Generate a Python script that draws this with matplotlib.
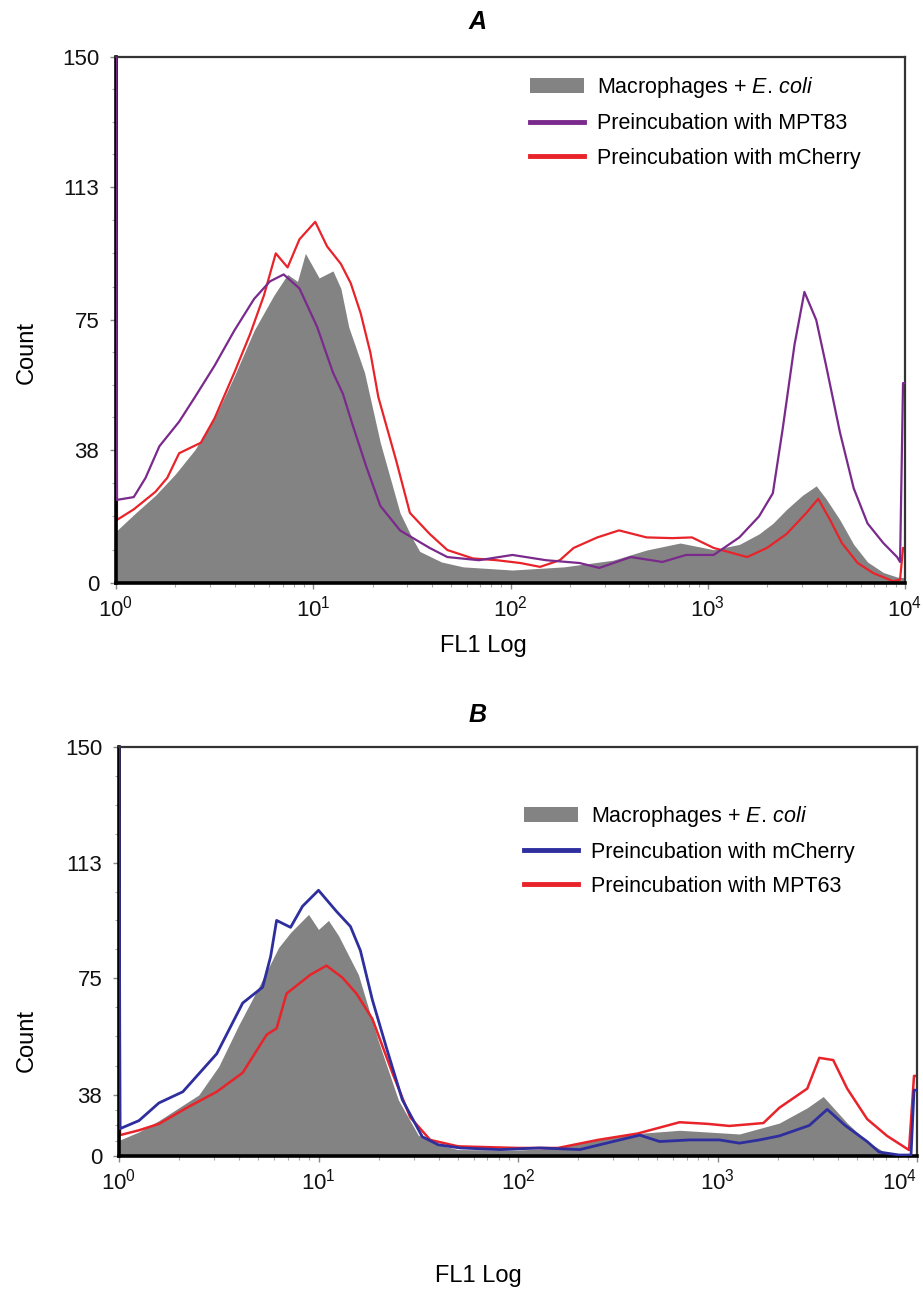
import numpy as np
import matplotlib
matplotlib.use('Agg')
import matplotlib.pyplot as plt
from matplotlib.patches import Patch
from matplotlib.lines import Line2D
from matplotlib.ticker import FixedLocator, NullFormatter, LogLocator

plt.rcParams['font.family'] = ['Liberation Sans', 'DejaVu Sans']
plt.rcParams['mathtext.fontset'] = 'custom'
plt.rcParams['mathtext.rm'] = 'Liberation Sans'
plt.rcParams['mathtext.it'] = 'Liberation Sans:italic'
plt.rcParams['mathtext.bf'] = 'Liberation Sans:bold'

# ---------------- data (x given as log10 of FL1 intensity) ----------------
# Panel A
a_gray_log = [0, 0.005, 0.1, 0.2, 0.3, 0.4, 0.5, 0.6, 0.7, 0.8, 0.87, 0.92, 0.96, 1.0, 1.03, 1.1,
              1.14, 1.18, 1.26, 1.3, 1.34, 1.4, 1.44, 1.5, 1.54, 1.65, 1.76, 2.01, 2.27, 2.52,
              2.69, 2.86, 3.03, 3.16, 3.26, 3.33, 3.4, 3.48, 3.55, 3.6, 3.67, 3.74, 3.81, 3.89,
              3.96, 4.0]
a_gray = [150, 15, 20, 25, 31, 38, 47, 59, 72, 82, 88, 86, 94, 90, 87, 89,
          84, 73, 60, 50, 40, 28, 20, 13, 9, 6, 4.6, 3.7, 4.6, 6.5,
          9.4, 11.4, 9.5, 11, 14, 17, 21, 25, 27.7, 24, 18, 11, 6, 3,
          1.7, 1.5]

a_mpt83_log = [0, 0.005, 0.09, 0.15, 0.22, 0.32, 0.4, 0.5, 0.6, 0.7, 0.78, 0.85, 0.93, 1.02,
               1.1, 1.15, 1.2, 1.27, 1.34, 1.44, 1.59, 1.68, 1.84, 2.01, 2.18, 2.35, 2.45,
               2.61, 2.77, 2.89, 3.03, 3.16, 3.26, 3.33, 3.38, 3.44, 3.49, 3.55, 3.6, 3.67,
               3.74, 3.81, 3.89, 3.96, 3.975, 3.99, 4.0]
a_mpt83 = [150, 23.7, 24.5, 30, 39, 46, 53, 62, 72, 81, 86, 88, 84, 73,
           60, 54, 45, 33, 22, 15, 10, 7.4, 6.5, 8, 6.5, 5.7, 4.3,
           7.4, 6, 8, 8, 13, 19, 25.6, 44, 68, 83, 75, 62, 43,
           27, 17, 11.4, 7.4, 6, 57, 57]

a_mcherry_log = [0, 0.005, 0.09, 0.2, 0.26, 0.32, 0.43, 0.5, 0.6, 0.68, 0.75, 0.81, 0.87, 0.93,
                 1.01, 1.07, 1.14, 1.19, 1.24, 1.29, 1.33, 1.42, 1.49, 1.59, 1.68, 1.81, 1.93,
                 2.05, 2.15, 2.25, 2.32, 2.44, 2.55, 2.69, 2.82, 2.92, 3.03, 3.2, 3.3, 3.4,
                 3.5, 3.56, 3.62, 3.68, 3.76, 3.84, 3.94, 3.975, 3.99, 4.0]
a_mcherry = [150, 18, 21, 26, 30, 37, 40, 47, 60, 71, 82, 94, 90, 98,
             103, 96, 91, 85.5, 77, 65.6, 53, 35, 20, 14, 9.4, 7, 6.5,
             5.7, 4.6, 6.5, 10, 13, 15, 13, 12.8, 13, 10, 7.4, 10, 14,
             20, 24, 18, 11.4, 5.7, 2.8, 0.5, 1, 10, 10]

# Panel B
b_gray_log = [0, 0.005, 0.1, 0.2, 0.3, 0.4, 0.5, 0.6, 0.7, 0.8, 0.86, 0.95, 1.0, 1.05, 1.1,
              1.2, 1.3, 1.4, 1.5, 1.6, 1.7, 2.0, 2.2, 2.4, 2.6, 2.81, 3.11, 3.31, 3.45,
              3.53, 3.65, 3.75, 3.85, 4.0]
b_gray = [150, 10, 15, 22, 30, 38, 47, 60, 72, 85, 90, 96, 91, 94, 89,
          76, 55, 35, 13, 7, 4, 3.7, 5, 10, 14, 16, 13.7, 20.5, 30,
          37, 20.5, 9, 1.4, 1]

b_mcherry_log = [0, 0.005, 0.1, 0.2, 0.32, 0.49, 0.62, 0.72, 0.76, 0.79, 0.86, 0.92, 1.0, 1.09,
                 1.16, 1.21, 1.27, 1.34, 1.42, 1.52, 1.6, 1.71, 1.91, 2.11, 2.31, 2.51, 2.61,
                 2.71, 2.86, 3.01, 3.11, 3.21, 3.31, 3.46, 3.55, 3.64, 3.75, 3.81, 3.91, 3.97,
                 3.985, 4.0]
b_mcherry = [150, 17, 22, 33, 39, 51, 67, 72, 82, 94, 91.7, 98.7, 104, 97,
             92, 84, 68, 53, 35, 12, 7, 5, 4, 5, 4, 10, 13,
             9, 10, 10, 8, 10, 12.5, 19, 29, 19, 9, 2.5, 0.6, 0.6,
             39.5, 39.5]

b_mpt63_log = [0, 0.005, 0.1, 0.2, 0.34, 0.49, 0.62, 0.74, 0.79, 0.84, 0.96, 1.04, 1.12, 1.19,
               1.27, 1.37, 1.46, 1.56, 1.7, 1.85, 2.0, 2.2, 2.4, 2.6, 2.81, 2.95, 3.06, 3.23,
               3.31, 3.45, 3.51, 3.58, 3.65, 3.75, 3.85, 3.96, 3.985, 4.0]
b_mpt63 = [150, 13, 16, 20, 30, 39, 45, 57, 59, 70, 76, 79, 75, 70,
           62, 45, 24, 10, 6, 5.5, 5, 5, 10, 14, 21, 20, 18.7, 20.5,
           30, 40, 49.7, 49, 40, 23, 12.5, 3.7, 44, 44]

x_ticks = [1, 10, 100, 1000, 10000]
x_tick_labels = [r'$\mathregular{10^{0}}$', r'$\mathregular{10^{1}}$', r'$\mathregular{10^{2}}$',
                 r'$\mathregular{10^{3}}$', r'$\mathregular{10^{4}}$']
y_ticks = [0, 38, 75, 113, 150]
y_tick_labels = ['0', '38', '75', '113', '150']
# panel B's count axis is drawn unevenly in the original figure
b_axis_pos = [0, 22.4, 65.4, 107.4, 150]

legend_a = ['Macrophages + $\\mathit{E.\\,coli}$', 'Preincubation with MPT83', 'Preincubation with mCherry']
legend_b = ['Macrophages + $\\mathit{E.\\,coli}$', 'Preincubation with mCherry', 'Preincubation with MPT63']

GRAY = '#838383'
PURPLE = '#7a2a8c'
RED = '#e8232a'
BLUE = '#2e2e9e'

W, H = 923, 1295
fig = plt.figure(figsize=(W / 100, H / 100), dpi=100)
axA = fig.add_axes([116 / W, 1 - 583 / H, 789 / W, 526 / H])
axB = fig.add_axes([119 / W, 1 - 1156 / H, 798 / W, 409 / H])

def fwd(v):
    return np.interp(v, y_ticks, b_axis_pos)

def inv(p):
    return np.interp(p, b_axis_pos, y_ticks)

axB.set_yscale('function', functions=(fwd, inv))


def style(ax, minor_y):
    ax.set_xscale('log')
    ax.set_xlim(1, 10000)
    ax.set_ylim(0, 150)
    ax.set_xticks(x_ticks)
    ax.set_xticklabels(x_tick_labels)
    ax.xaxis.set_minor_locator(LogLocator(base=10, subs=np.arange(2, 10)))
    ax.xaxis.set_minor_formatter(NullFormatter())
    ax.set_yticks(y_ticks)
    ax.set_yticklabels(y_tick_labels)
    ax.yaxis.set_minor_locator(FixedLocator(minor_y))
    ax.tick_params(axis='both', which='major', direction='out', length=4, width=1,
                   color='#888888', labelsize=16, labelcolor='#111111')
    ax.tick_params(axis='x', which='major', pad=5)
    ax.tick_params(axis='y', which='major', pad=8)
    ax.tick_params(axis='both', which='minor', direction='out', length=3, width=0.8,
                   color='#aaaaaa')
    for s in ['left', 'bottom']:
        ax.spines[s].set_linewidth(2.6)
        ax.spines[s].set_color('black')
    for s in ['top', 'right']:
        ax.spines[s].set_linewidth(1.6)
        ax.spines[s].set_color('#333333')


minor_y = []
for lo, hi in zip(y_ticks[:-1], y_ticks[1:]):
    minor_y += list(np.linspace(lo, hi, 5)[1:-1])

# Panel A
axA.fill_between(10 ** np.array(a_gray_log), 0, a_gray, color=GRAY, lw=0, zorder=1)
axA.plot(10 ** np.array(a_mcherry_log), a_mcherry, color=RED, lw=1.6, zorder=2)
axA.plot(10 ** np.array(a_mpt83_log), a_mpt83, color=PURPLE, lw=1.6, zorder=3)
style(axA, minor_y)

# Panel B
axB.fill_between(10 ** np.array(b_gray_log), 0, b_gray, color=GRAY, lw=0, zorder=1)
axB.plot(10 ** np.array(b_mpt63_log), b_mpt63, color=RED, lw=1.8, zorder=2)
axB.plot(10 ** np.array(b_mcherry_log), b_mcherry, color=BLUE, lw=2.0, zorder=3)
style(axB, minor_y)
axB.get_xticklabels()[-1].set_horizontalalignment('right')
axB.get_xticklabels()[-1].set_x(10000)

# Legends
hA = [Patch(facecolor=GRAY, edgecolor='none'), Line2D([], [], color=PURPLE, lw=3.5),
      Line2D([], [], color=RED, lw=3.5)]
legA = axA.legend(hA, legend_a, loc='upper left', bbox_to_anchor=(530 / W, 1 - 75 / H),
                  bbox_transform=fig.transFigure, frameon=False, fontsize=15.5,
                  handlelength=2.5, handleheight=0.75, handletextpad=0.6, labelspacing=0.62,
                  borderpad=0, borderaxespad=0)
hB = [Patch(facecolor=GRAY, edgecolor='none'), Line2D([], [], color=BLUE, lw=3.5),
      Line2D([], [], color=RED, lw=3.5)]
legB = axB.legend(hB, legend_b, loc='upper left', bbox_to_anchor=(524 / W, 1 - 804 / H),
                  bbox_transform=fig.transFigure, frameon=False, fontsize=15.5,
                  handlelength=2.5, handleheight=0.75, handletextpad=0.6, labelspacing=0.6,
                  borderpad=0, borderaxespad=0)

# Titles and axis labels
fig.text(478 / W, 1 - 22 / H, 'A', ha='center', va='center', fontsize=18,
         fontweight='bold', style='italic')
fig.text(478 / W, 1 - 715 / H, 'B', ha='center', va='center', fontsize=18,
         fontweight='bold', style='italic')
fig.text(483 / W, 1 - 646 / H, 'FL1 Log', ha='center', va='center', fontsize=17)
fig.text(478 / W, 1 - 1276 / H, 'FL1 Log', ha='center', va='center', fontsize=17)
fig.text(27 / W, 1 - 352 / H, 'Count', ha='center', va='center', fontsize=17, rotation=90)
fig.text(27 / W, 1 - 1040 / H, 'Count', ha='center', va='center', fontsize=17, rotation=90)

fig.savefig('out.png', dpi=100, facecolor='white')
